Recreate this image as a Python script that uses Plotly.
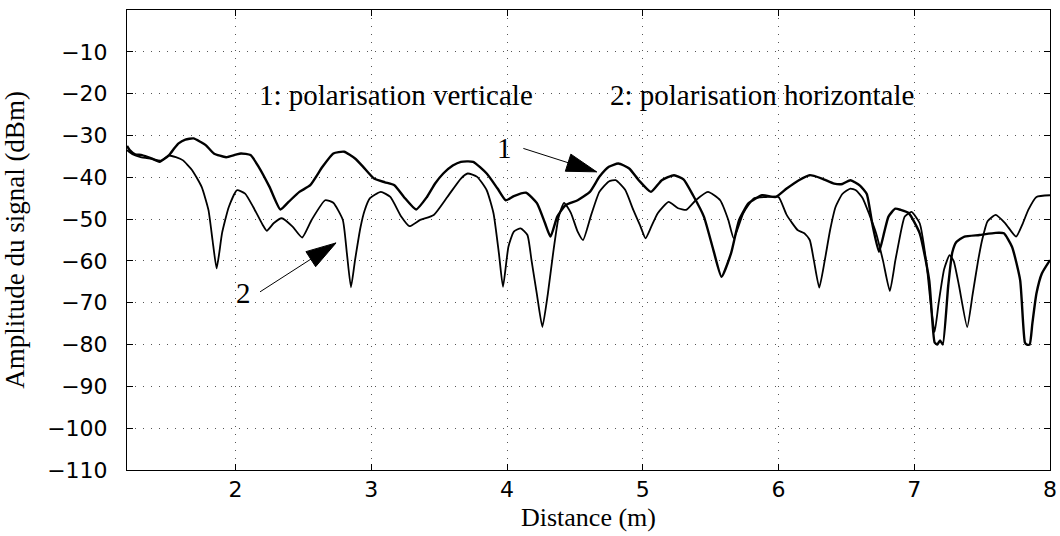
import math
import plotly.graph_objects as go

# Curve 1: vertical polarisation (dBm vs m)
dist_v = [1.20, 1.22, 1.26, 1.31, 1.38, 1.44, 1.51, 1.55, 1.58, 1.63,
          1.69, 1.74, 1.78, 1.84, 1.93, 2.00, 2.04, 2.11, 2.17, 2.25,
          2.33, 2.39, 2.47, 2.55, 2.64, 2.72, 2.80, 2.88, 2.94, 3.02,
          3.10, 3.17, 3.24, 3.33, 3.41, 3.47, 3.53, 3.60, 3.66, 3.75,
          3.85, 3.93, 3.99, 4.05, 4.14, 4.22, 4.28, 4.32, 4.37, 4.43,
          4.52, 4.61, 4.68, 4.75, 4.82, 4.90, 4.97, 5.06, 5.14, 5.23,
          5.30, 5.37, 5.45, 5.52, 5.58, 5.65, 5.71, 5.78, 5.88, 5.98,
          6.06, 6.15, 6.23, 6.32, 6.41, 6.47, 6.53, 6.60, 6.65, 6.69,
          6.74, 6.78, 6.81, 6.86, 6.90, 6.96, 7.04, 7.11, 7.15, 7.17,
          7.19, 7.21, 7.25, 7.28, 7.31, 7.37, 7.48, 7.60, 7.66, 7.72,
          7.78, 7.815, 7.83, 7.85, 7.87, 7.90, 7.94, 8.00]
amp_v = [-32.5, -33.5, -34.5, -34.7, -35.5, -36.3, -34.7, -33.0, -31.9, -31.0,
         -30.7, -31.5, -32.3, -34.3, -35.2, -34.6, -34.3, -34.7, -37.5, -42.3,
         -47.7, -45.9, -43.5, -41.9, -37.5, -34.3, -33.9, -35.5, -37.5, -40.3,
         -41.2, -41.9, -44.7, -47.7, -44.7, -41.5, -39.1, -37.2, -36.3, -36.3,
         -39.1, -42.7, -45.5, -44.5, -43.7, -46.2, -51.0, -54.2, -49.4, -46.7,
         -45.5, -43.5, -39.9, -37.5, -36.7, -37.9, -40.7, -43.5, -40.7, -39.5,
         -40.5, -44.3, -49.4, -57.4, -63.8, -58.2, -50.2, -46.2, -44.3, -44.7,
         -42.7, -40.7, -39.5, -40.3, -41.5, -41.6, -40.7, -42.0, -44.0, -51.0,
         -57.8, -53.0, -49.4, -47.5, -47.8, -48.6, -53.4, -64.6, -79.5, -80.0,
         -79.0, -80.0, -66.0, -58.0, -55.5, -54.2, -53.8, -53.3, -53.4, -56.6,
         -64.6, -79.5, -80.0, -80.0, -75.0, -67.8, -63.0, -59.8]

# Curve 2: horizontal polarisation
dist_h = [1.20, 1.24, 1.30, 1.38, 1.45, 1.51, 1.56, 1.61, 1.68, 1.75,
          1.80, 1.83, 1.86, 1.88, 1.90, 1.95, 2.01, 2.07, 2.13, 2.20,
          2.23, 2.28, 2.34, 2.42, 2.49, 2.56, 2.66, 2.72, 2.79, 2.82,
          2.85, 2.88, 2.92, 2.95, 2.99, 3.07, 3.14, 3.22, 3.28, 3.36,
          3.46, 3.56, 3.66, 3.71, 3.78, 3.85, 3.90, 3.94, 3.97, 4.01,
          4.05, 4.10, 4.15, 4.18, 4.22, 4.26, 4.30, 4.34, 4.38, 4.42,
          4.47, 4.52, 4.56, 4.62, 4.68, 4.75, 4.80, 4.87, 4.93, 4.98,
          5.02, 5.06, 5.11, 5.19, 5.26, 5.32, 5.39, 5.48, 5.57, 5.63,
          5.67, 5.74, 5.82, 5.92, 6.00, 6.06, 6.14, 6.19, 6.23, 6.26,
          6.30, 6.34, 6.38, 6.42, 6.47, 6.53, 6.57, 6.62, 6.67, 6.72,
          6.77, 6.82, 6.86, 6.88, 6.93, 6.98, 7.04, 7.09, 7.12, 7.15,
          7.18, 7.22, 7.26, 7.29, 7.33, 7.39, 7.43, 7.47, 7.50, 7.54,
          7.60, 7.67, 7.75, 7.80, 7.84, 7.90, 8.00]
amp_h = [-33.5, -34.5, -35.2, -35.6, -36.0, -34.8, -35.2, -35.9, -38.3, -42.3,
         -47.8, -55.0, -61.8, -58.0, -53.4, -47.1, -43.1, -43.9, -47.1, -51.4,
         -52.8, -51.0, -49.8, -51.8, -54.4, -50.2, -45.5, -46.1, -50.2, -58.2,
         -66.3, -59.8, -52.0, -48.0, -45.0, -43.5, -44.7, -49.4, -51.7, -50.2,
         -49.0, -44.7, -40.3, -39.1, -39.9, -43.1, -48.6, -58.2, -66.2, -56.6,
         -53.0, -52.2, -53.8, -59.8, -68.0, -75.8, -68.0, -58.0, -49.5, -46.1,
         -48.5, -53.0, -55.0, -49.0, -43.5, -41.0, -40.7, -43.0, -47.8, -51.5,
         -54.6, -52.0, -48.6, -45.9, -47.4, -47.8, -45.5, -43.5, -45.5, -50.2,
         -54.6, -48.6, -45.0, -44.7, -44.7, -49.0, -52.6, -53.4, -55.0, -59.8,
         -66.4, -60.0, -52.6, -47.1, -44.0, -42.7, -43.1, -45.0, -49.0, -53.5,
         -60.0, -67.2, -60.0, -56.6, -49.4, -48.3, -51.0, -60.6, -70.0, -77.0,
         -70.0, -62.0, -58.6, -60.0, -66.0, -75.8, -68.0, -60.0, -55.0, -50.5,
         -49.0, -51.0, -54.2, -51.0, -47.8, -44.7, -44.3]

x_ticks = [2, 3, 4, 5, 6, 7, 8]
y_ticks = [-110, -100, -90, -80, -70, -60, -50, -40, -30, -20, -10]
X_RANGE = [1.2, 8]
Y_RANGE = [-110, 0]

W, H = 1060, 536
MARGIN = dict(l=127, r=10, t=10, b=66)
px_per_x = (W - MARGIN["l"] - MARGIN["r"]) / (X_RANGE[1] - X_RANGE[0])
px_per_y = (H - MARGIN["t"] - MARGIN["b"]) / (Y_RANGE[1] - Y_RANGE[0])

SERIF = "Liberation Serif, Times New Roman, serif"
SANS = "DejaVu Sans, Arial, sans-serif"

fig = go.Figure()
fig.add_trace(go.Scatter(x=dist_v, y=amp_v, mode="lines", name="1",
                         line=dict(color="black", width=2.4, shape="spline", smoothing=0.5)))
fig.add_trace(go.Scatter(x=dist_h, y=amp_h, mode="lines", name="2",
                         line=dict(color="black", width=1.8, shape="spline", smoothing=0.5)))


def arrow(tail, tip, head_len=30, head_w=18):
    # shaft as a line, head as a filled triangle drawn in pixel units around the tip
    fig.add_shape(type="line", x0=tail[0], y0=tail[1], x1=tip[0], y1=tip[1],
                  line=dict(color="black", width=1))
    dx = (tip[0] - tail[0]) * px_per_x
    dy = (tip[1] - tail[1]) * px_per_y
    n = math.hypot(dx, dy)
    ux, uy = dx / n, dy / n
    bx, by = -ux * head_len, -uy * head_len
    px_, py_ = -uy * head_w / 2, ux * head_w / 2
    path = (f"M0,0 L{bx + px_:.1f},{by + py_:.1f} "
            f"L{bx - px_:.1f},{by - py_:.1f} Z")
    fig.add_shape(type="path", xsizemode="pixel", ysizemode="pixel",
                  xanchor=tip[0], yanchor=tip[1], path=path,
                  fillcolor="black", line=dict(color="black", width=1))


arrow((4.12, -33.1), (4.66, -38.7))
arrow((2.18, -67.4), (2.74, -55.7))

labels = [
    dict(x=2.16, y=-20.3, text="1: polarisation verticale", xanchor="left"),
    dict(x=4.74, y=-20.3, text="2: polarisation horizontale", xanchor="left"),
    dict(x=3.98, y=-33.1, text="1", xanchor="center"),
    dict(x=2.06, y=-67.6, text="2", xanchor="center"),
]
for lb in labels:
    fig.add_annotation(x=lb["x"], y=lb["y"], text=lb["text"], xanchor=lb["xanchor"],
                       yanchor="middle", showarrow=False,
                       font=dict(family=SERIF, size=29, color="black"))

axis_common = dict(
    ticks="inside", ticklen=6, tickcolor="black", mirror="allticks",
    showline=True, linecolor="black", linewidth=1,
    showgrid=True, gridcolor="#555555", gridwidth=1, griddash="1px,7px",
    zeroline=False, automargin=False,
    tickfont=dict(family=SANS, size=22, color="black"),
)
fig.update_xaxes(range=X_RANGE, tickvals=x_ticks, **axis_common,
                 title=dict(text="Distance (m)", font=dict(family=SERIF, size=26, color="black"),
                            standoff=6))
fig.update_yaxes(range=Y_RANGE, tickvals=y_ticks, ticklabelstandoff=14, **axis_common,
                 title=dict(text="Amplitude du signal (dBm)",
                            font=dict(family=SERIF, size=27, color="black"), standoff=14))

fig.update_layout(
    width=W, height=H, margin=MARGIN,
    paper_bgcolor="white", plot_bgcolor="white",
    showlegend=False,
)

# drop the browser's default body margin so the figure sits at the page origin
fig.write_html("out.html", config={"displayModeBar": False},
               post_script="document.body.style.margin='0';")
